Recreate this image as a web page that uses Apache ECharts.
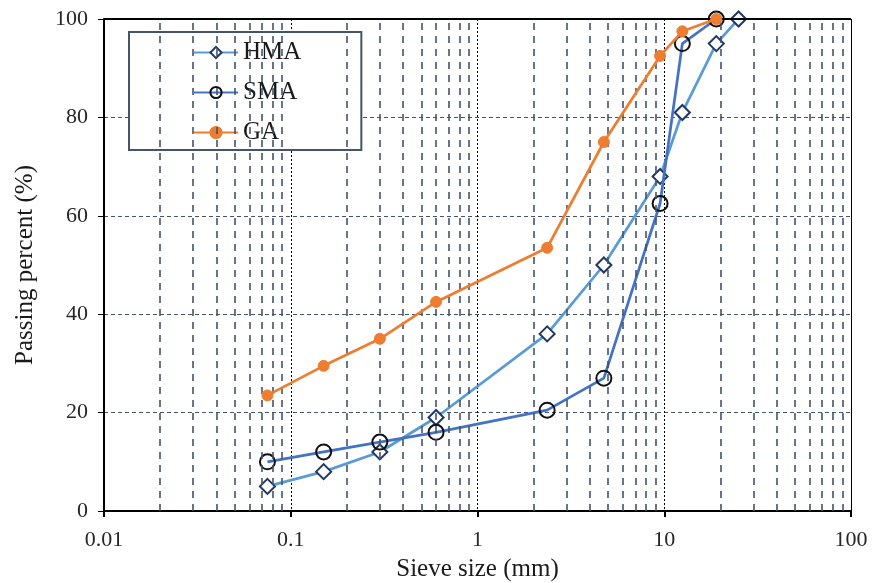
<!DOCTYPE html>
<html>
<head>
<meta charset="utf-8">
<script src="https://cdn.jsdelivr.net/npm/echarts@6/dist/echarts.min.js"></script>
<style>
  html, body { margin: 0; padding: 0; background: #fff; }
  #main { width: 872px; height: 583px; }
</style>
</head>
<body>
<div id="main"></div>
<script>
// sieve sizes (mm) and passing percent
const sieveHMA = [0.075, 0.15, 0.3, 0.6, 2.36, 4.75, 9.5, 12.5, 19, 25]
const passHMA = [5, 8, 12, 19, 36, 50, 68, 81, 95, 100]
const sieveSMA = [0.075, 0.15, 0.3, 0.6, 2.36, 4.75, 9.5, 12.5, 19]
const passSMA = [10, 12, 14, 16, 20.5, 27, 62.5, 95, 100]
const sieveGA = [0.075, 0.15, 0.3, 0.6, 2.36, 4.75, 9.5, 12.5, 19]
const passGA = [23.5, 29.5, 35, 42.5, 53.5, 75, 92.5, 97.5, 100]

// minor log gridlines 2..9 in each decade
const decades = [0.01, 0.1, 1, 10]
const minorGrid = []
decades.forEach(function (d) {
  for (let k = 2; k <= 9; k++) minorGrid.push(+(d * k).toPrecision(3))
})

const FONT = '"Liberation Serif", "Times New Roman", serif'

const zip = (xs, ys) => xs.map((x, i) => [x, ys[i]])

const chart = echarts.init(document.getElementById('main'))

chart.setOption({
  animation: false,
  grid: { left: 104, right: 21, top: 19, bottom: 72, containLabel: false, outerBoundsMode: 'none' },
  legend: {
    orient: 'vertical',
    left: 129,
    top: 32,
    padding: [8, 60, 5, 64],
    itemGap: 15,
    itemWidth: 44,
    itemHeight: 14,
    borderColor: '#44546a',
    borderWidth: 2,
    backgroundColor: '#fff',
    textStyle: { fontFamily: FONT, fontSize: 25, color: '#1a1a1a' },
    data: ['HMA', 'SMA', 'GA']
  },
  xAxis: {
    type: 'log',
    logBase: 10,
    min: 0.01,
    max: 100,
    name: 'Sieve size (mm)',
    nameLocation: 'middle',
    nameGap: 46,
    nameTextStyle: { fontFamily: FONT, fontSize: 25, color: '#1a1a1a' },
    axisLine: { onZero: false, lineStyle: { color: '#000', width: 2 } },
    axisTick: { show: true, length: 6, lineStyle: { color: '#000', width: 2 } },
    axisLabel: {
      fontFamily: FONT, fontSize: 22, color: '#262626', margin: 18,
      formatter: function (v) { return String(+v.toPrecision(3)) }
    },
    splitLine: { show: true, lineStyle: { type: [2, 2], color: '#000', width: 1 } }
  },
  yAxis: {
    type: 'value',
    min: 0,
    max: 100,
    interval: 20,
    name: 'Passing percent (%)',
    nameLocation: 'middle',
    nameGap: 66,
    nameTextStyle: { fontFamily: FONT, fontSize: 25, color: '#1a1a1a' },
    axisLine: { show: true, lineStyle: { color: '#000', width: 2 } },
    axisTick: { show: true, length: 6, lineStyle: { color: '#000', width: 1 } },
    axisLabel: { fontFamily: FONT, fontSize: 22, color: '#262626', margin: 16 },
    splitLine: { show: true, lineStyle: { type: [4, 3], color: '#44546a', width: 1 } }
  },
  series: [
    {
      name: '_grid',
      type: 'line',
      data: [],
      silent: true,
      markLine: {
        silent: true,
        symbol: 'none',
        label: { show: false },
        lineStyle: { type: [7, 6], color: '#44546a', width: 1.6 },
        data: minorGrid.map(v => ({ xAxis: v }))
          .concat([{ xAxis: 100, lineStyle: { type: [2, 2], color: '#000', width: 1 } }])
      }
    },
    {
      name: '_top',
      type: 'line',
      data: [],
      silent: true,
      markLine: {
        silent: true,
        symbol: 'none',
        label: { show: false },
        lineStyle: { type: 'solid', color: '#000', width: 2 },
        data: [{ yAxis: 100 }]
      }
    },
    {
      name: 'HMA',
      type: 'line',
      data: zip(sieveHMA, passHMA),
      symbol: 'diamond',
      symbolSize: 15,
      lineStyle: { color: '#5b9bd5', width: 2.75 },
      itemStyle: { color: '#fff', borderColor: '#203864', borderWidth: 2 },
      z: 3
    },
    {
      name: 'SMA',
      type: 'line',
      data: zip(sieveSMA, passSMA),
      symbol: 'circle',
      symbolSize: 15,
      lineStyle: { color: '#4472c4', width: 2.75 },
      itemStyle: { color: 'rgba(255,255,255,0)', borderColor: '#111', borderWidth: 2 },
      z: 4
    },
    {
      name: 'GA',
      type: 'line',
      data: zip(sieveGA, passGA),
      symbol: 'circle',
      symbolSize: 11,
      lineStyle: { color: '#ed7d31', width: 2.75 },
      itemStyle: { color: '#ed7d31', borderColor: '#ed7d31', borderWidth: 1 },
      z: 5
    }
  ]
})
</script>
</body>
</html>
